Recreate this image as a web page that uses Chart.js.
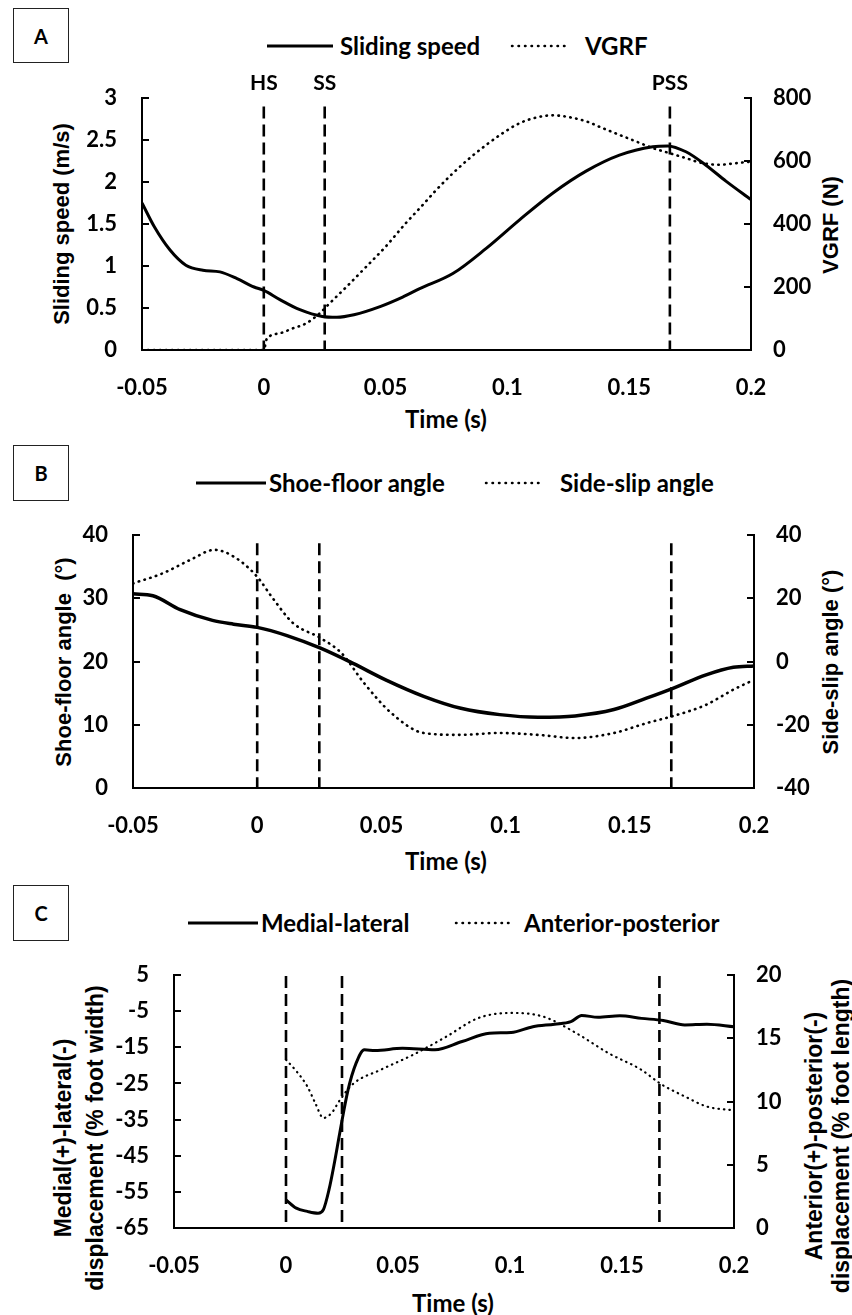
<!DOCTYPE html>
<html>
<head>
<meta charset="utf-8">
<script src="https://cdn.jsdelivr.net/npm/chart.js@4.4.1/dist/chart.umd.min.js"></script>
<style>
  body { margin: 0; background: #fff; width: 852px; height: 1315px; position: relative; overflow: hidden; font-family: Lato, sans-serif; color: #000; }
  canvas { position: absolute; left: 0; }
  .tag { position: absolute; box-sizing: border-box; border: 1.5px solid #222; font: bold 20px Lato; display: flex; align-items: center; justify-content: center; }
  .lg { position: absolute; font: bold 24px Lato; line-height: 1; transform: translateY(-50%); white-space: nowrap; }
  .sample { position: absolute; }
  .xt { position: absolute; font: bold 24px Lato; line-height: 1; transform: translate(-50%, -50%); white-space: nowrap; }
  .yt { position: absolute; font: bold 22px "Liberation Sans", Arial, sans-serif; transform: translate(-50%, -50%) rotate(-90deg); white-space: pre; text-align: center; line-height: 1; }
</style>
</head>
<body>

<div class="tag" style="left:13px;top:8px;width:56px;height:55px">A</div>
<div class="tag" style="left:13px;top:445px;width:56px;height:56px">B</div>
<div class="tag" style="left:13px;top:885px;width:56px;height:56px">C</div>

<!-- legends -->
<svg class="sample" style="left:267px;top:43px" width="66" height="6"><line x1="0" y1="3" x2="66" y2="3" stroke="#000" stroke-width="3"/></svg>
<div class="lg" style="left:340px;top:46px">Sliding speed</div>
<svg class="sample" style="left:510px;top:43px" width="58" height="6"><line x1="2" y1="3" x2="57" y2="3" stroke="#000" stroke-width="2.5" stroke-dasharray="0.5 6" stroke-linecap="round"/></svg>
<div class="lg" style="left:585px;top:46px">VGRF</div>

<svg class="sample" style="left:196px;top:480px" width="70" height="6"><line x1="0" y1="3" x2="70" y2="3" stroke="#000" stroke-width="3"/></svg>
<div class="lg" style="left:269px;top:483px">Shoe-floor angle</div>
<svg class="sample" style="left:484px;top:480px" width="60" height="6"><line x1="2" y1="3" x2="59" y2="3" stroke="#000" stroke-width="2.5" stroke-dasharray="0.5 6" stroke-linecap="round"/></svg>
<div class="lg" style="left:560px;top:483px">Side-slip angle</div>

<svg class="sample" style="left:188px;top:920px" width="70" height="6"><line x1="0" y1="3" x2="70" y2="3" stroke="#000" stroke-width="3"/></svg>
<div class="lg" style="left:261px;top:923px">Medial-lateral</div>
<svg class="sample" style="left:454px;top:920px" width="61" height="6"><line x1="2" y1="3" x2="60" y2="3" stroke="#000" stroke-width="2.5" stroke-dasharray="0.5 6" stroke-linecap="round"/></svg>
<div class="lg" style="left:524px;top:923px">Anterior-posterior</div>

<!-- axis titles -->
<div class="xt" style="left:446px;top:419px">Time (s)</div>
<div class="xt" style="left:446px;top:861px">Time (s)</div>
<div class="xt" style="left:453px;top:1303px">Time (s)</div>

<div class="yt" style="left:62px;top:224px">Sliding speed (m/s)</div>
<div class="yt" style="left:831px;top:225px">VGRF (N)</div>
<div class="yt" style="left:64px;top:662px">Shoe-floor angle  (°)</div>
<div class="yt" style="left:831px;top:662px">Side-slip angle (°)</div>
<div class="yt" style="left:79px;top:1138px;font-size:23px;line-height:32px">Medial(+)-lateral(-)
displacement (% foot width)</div>
<div class="yt" style="left:828px;top:1136px;font-size:23px;line-height:27px">Anterior(+)-posterior(-)
displacement (% foot length)</div>

<canvas id="chartA" width="852" height="440" style="top:0"></canvas>
<canvas id="chartB" width="852" height="440" style="top:440px"></canvas>
<canvas id="chartC" width="852" height="435" style="top:880px"></canvas>

<script>
const xTicks = [-0.05, 0, 0.05, 0.1, 0.15, 0.2];
const eventTimes = [0, 0.025, 0.1667];
const eventLabels = ["HS", "SS", "PSS"];

// A: sliding speed (m/s) and VGRF (N)
const timeSpeed = [-0.05, -0.045, -0.0385, -0.032, -0.025, -0.018, -0.011, -0.004, 0, 0.0066, 0.0148, 0.024, 0.03, 0.037, 0.048, 0.057, 0.064, 0.0776, 0.0913, 0.105, 0.1187, 0.1323, 0.146, 0.1597, 0.1658, 0.1733, 0.1815, 0.1897, 0.2];
const slidingSpeed = [1.75, 1.47, 1.19, 1.01, 0.95, 0.93, 0.85, 0.75, 0.71, 0.6, 0.48, 0.4, 0.39, 0.42, 0.52, 0.63, 0.73, 0.91, 1.21, 1.55, 1.87, 2.13, 2.32, 2.42, 2.43, 2.36, 2.2, 2.01, 1.79];
const timeVgrf = [-0.05, -0.025, 0, 0.0012, 0.0066, 0.012, 0.0175, 0.023, 0.027, 0.034, 0.042, 0.05, 0.058, 0.064, 0.0708, 0.0776, 0.0845, 0.0913, 0.0982, 0.105, 0.1118, 0.1187, 0.1255, 0.1323, 0.1392, 0.146, 0.1528, 0.1597, 0.1665, 0.1733, 0.1802, 0.187, 0.1938, 0.2];
const vgrf = [0, 0, 0, 35, 53, 69, 85, 117, 148, 201, 264, 328, 400, 450, 508, 561, 609, 651, 689, 720, 738, 745, 739, 726, 704, 683, 662, 641, 625, 609, 593, 588, 593, 598];
const speedTicks = [0, 0.5, 1, 1.5, 2, 2.5, 3];
const vgrfTicks = [0, 200, 400, 600, 800];

// B: shoe-floor angle and side-slip angle (deg)
const timeShoe = [-0.05, -0.042, -0.031, -0.018, -0.0095, 0, 0.012, 0.0255, 0.0386, 0.0517, 0.067, 0.082, 0.0976, 0.113, 0.128, 0.1436, 0.1567, 0.1676, 0.1807, 0.1917, 0.2];
const shoeFloor = [30.7, 30.4, 28.2, 26.5, 25.9, 25.4, 24.1, 22.1, 19.7, 17.1, 14.5, 12.6, 11.6, 11.2, 11.4, 12.4, 14.2, 15.8, 17.9, 19.1, 19.3];
const timeSlip = [-0.05, -0.038, -0.027, -0.0172, -0.0095, 0, 0.0058, 0.0145, 0.0255, 0.034, 0.043, 0.054, 0.067, 0.082, 0.0976, 0.113, 0.128, 0.1436, 0.1567, 0.1676, 0.1807, 0.1917, 0.2];
const sideSlip = [24.7, 27.9, 32.1, 35.3, 33.2, 26.8, 20.5, 12.1, 7.4, 2.6, -6.8, -16.3, -22.6, -23.2, -22.6, -23.2, -24.2, -22.6, -19.5, -17.2, -13.7, -8.9, -5.8];
const shoeTicks = [0, 10, 20, 30, 40];
const slipTicks = [-40, -20, 0, 20, 40];

// C: displacement (% foot width / % foot length)
const timeMl = [0, 0.0046, 0.0095, 0.0143, 0.0167, 0.0192, 0.0216, 0.024, 0.0277, 0.0313, 0.035, 0.0398, 0.052, 0.0665, 0.0786, 0.0908, 0.1005, 0.1102, 0.1199, 0.1272, 0.132, 0.1393, 0.149, 0.1587, 0.1684, 0.178, 0.1879, 0.2];
const medialLateral = [-57.2, -59.5, -60.4, -60.9, -59.9, -54.4, -47, -38.7, -26.8, -19.4, -15.7, -15.9, -15.3, -15.7, -13.4, -11.1, -10.9, -9.3, -8.6, -7.9, -6.2, -6.7, -6.3, -7.0, -7.6, -8.8, -8.6, -9.3];
const timeAp = [0, 0.0046, 0.0095, 0.013, 0.0167, 0.0204, 0.024, 0.03, 0.0422, 0.0568, 0.0713, 0.0859, 0.1005, 0.115, 0.1296, 0.1442, 0.1587, 0.1672, 0.178, 0.1879, 0.2];
const anteriorPosterior = [13.3, 12.4, 11.2, 9.9, 8.7, 9.1, 10.1, 11.4, 12.5, 13.7, 15.1, 16.6, 17.0, 16.7, 15.4, 13.8, 12.5, 11.4, 10.4, 9.6, 9.3];
const mlTicks = [-65, -55, -45, -35, -25, -15, -5, 5];
const apTicks = [0, 5, 10, 15, 20];

Chart.defaults.color = "#000";
Chart.defaults.font.family = "Lato";

const tickFont = { family: "Lato", size: 22, weight: "bold" };

function pts(xs, ys) {
  return xs.map((x, i) => ({ x: x, y: ys[i] }));
}

function setTicks(list) {
  return scale => { scale.ticks = list.map(v => ({ value: v })); };
}

// tick marks point into the plot, like the original
const innerTicks = {
  id: "innerTicks",
  afterDraw(chart) {
    const ctx = chart.ctx;
    ctx.save();
    ctx.strokeStyle = "#000";
    ctx.lineWidth = 2;
    ["y", "y1"].forEach(id => {
      const s = chart.scales[id];
      const x0 = id === "y" ? s.right : s.left;
      const dir = id === "y" ? 1 : -1;
      s.ticks.forEach(t => {
        const y = Math.round(s.getPixelForValue(t.value));
        ctx.beginPath();
        ctx.moveTo(x0, y);
        ctx.lineTo(x0 + dir * 7, y);
        ctx.stroke();
      });
    });
    ctx.restore();
  }
};

const eventText = {
  id: "eventText",
  afterDraw(chart, args, opts) {
    if (!opts.show) return;
    const ctx = chart.ctx;
    const xs = chart.scales.x;
    ctx.save();
    ctx.font = "bold 21px Lato";
    ctx.fillStyle = "#000";
    ctx.textAlign = "center";
    ctx.textBaseline = "middle";
    eventTimes.forEach((t, i) => ctx.fillText(eventLabels[i], xs.getPixelForValue(t), opts.y));
    ctx.restore();
  }
};

function eventLines(yTop, yBottom) {
  return eventTimes.map(t => ({
    data: [{ x: t, y: yTop }, { x: t, y: yBottom }],
    borderColor: "#000",
    borderWidth: 2.6,
    borderDash: [12, 6],
    pointRadius: 0,
    yAxisID: "y"
  }));
}

function makePanel(id, g, series, left, right, eventTop, showLabels) {
  const H = g.height;
  new Chart(document.getElementById(id), {
    type: "line",
    data: { datasets: series.concat(eventLines(eventTop, left.min)) },
    options: {
      responsive: false,
      animation: false,
      events: [],
      layout: { padding: { top: g.top, left: 0, right: 0, bottom: 0 } },
      plugins: {
        legend: { display: false },
        tooltip: { enabled: false },
        eventText: { show: showLabels, y: 83 }
      },
      scales: {
        x: {
          type: "linear",
          min: -0.05,
          max: 0.2,
          afterBuildTicks: setTicks(xTicks),
          afterFit: s => { s.height = H - g.bottom; },
          grid: { display: false, drawTicks: false },
          border: { display: true, color: "#000", width: 2 },
          ticks: { font: tickFont, padding: 25, maxRotation: 0, autoSkip: false, callback: v => String(v) }
        },
        y: {
          position: "left",
          min: left.min,
          max: left.max,
          afterBuildTicks: setTicks(left.ticks),
          afterFit: s => { s.width = g.left; },
          grid: { display: false, drawTicks: false },
          border: { display: true, color: "#000", width: 2 },
          ticks: { font: tickFont, padding: 25, callback: v => String(v) }
        },
        y1: {
          position: "right",
          min: right.min,
          max: right.max,
          afterBuildTicks: setTicks(right.ticks),
          afterFit: s => { s.width = 852 - g.right; },
          grid: { display: false, drawTicks: false },
          border: { display: true, color: "#000", width: 2 },
          ticks: { font: tickFont, padding: 22, callback: v => String(v) }
        }
      }
    },
    plugins: [innerTicks, eventText]
  });
}

function solid(xs, ys, axis, w) {
  return { data: pts(xs, ys), yAxisID: axis, borderColor: "#000", borderWidth: w, pointRadius: 0, cubicInterpolationMode: "monotone" };
}
function dotted(xs, ys, axis, w, gap) {
  return { data: pts(xs, ys), yAxisID: axis, borderColor: "#000", borderWidth: w, borderDash: [0.5, gap], borderCapStyle: "round", pointRadius: 0, cubicInterpolationMode: "monotone" };
}

// g: plot box inside each canvas (top, bottom relative to the canvas)
makePanel("chartA", { height: 440, top: 98, bottom: 350, left: 142, right: 751 },
  [dotted(timeVgrf, vgrf, "y1", 2.6, 5.5), solid(timeSpeed, slidingSpeed, "y", 3)],
  { min: 0, max: 3, ticks: speedTicks }, { min: 0, max: 800, ticks: vgrfTicks }, 2.9, true);

makePanel("chartB", { height: 440, top: 95, bottom: 348, left: 133, right: 754 },
  [dotted(timeSlip, sideSlip, "y1", 2.6, 5.5), solid(timeShoe, shoeFloor, "y", 3.5)],
  { min: 0, max: 40, ticks: shoeTicks }, { min: -40, max: 40, ticks: slipTicks }, 38.7, false);

makePanel("chartC", { height: 435, top: 95, bottom: 348, left: 174, right: 734 },
  [dotted(timeAp, anteriorPosterior, "y1", 2.2, 5), solid(timeMl, medialLateral, "y", 3)],
  { min: -65, max: 5, ticks: mlTicks }, { min: 0, max: 20, ticks: apTicks }, 4.7, false);
</script>
</body>
</html>
